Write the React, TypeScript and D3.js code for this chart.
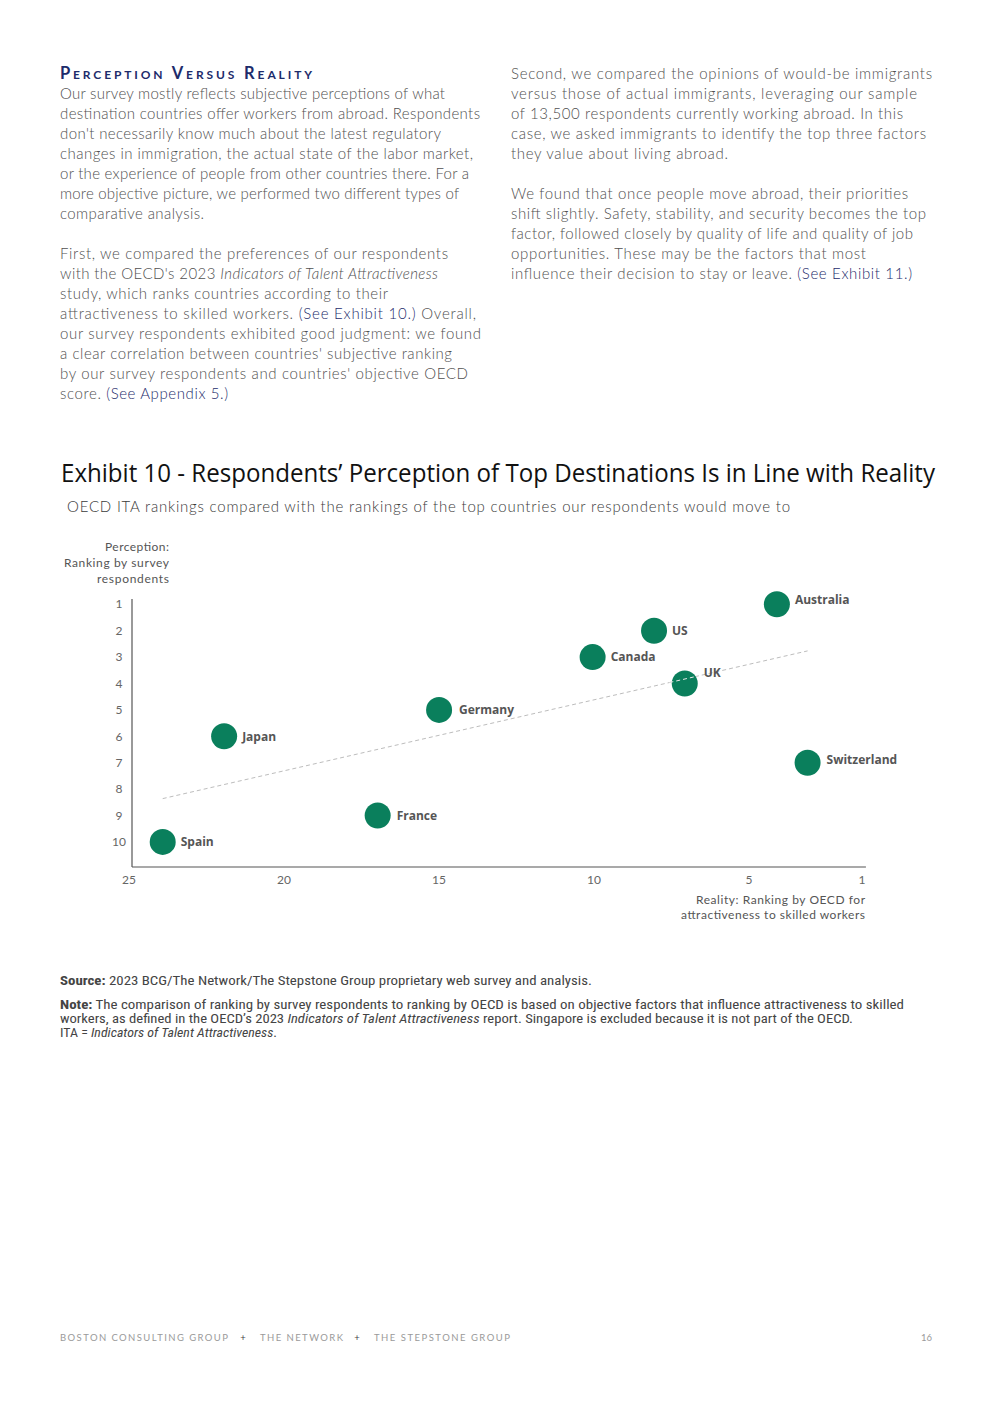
import React from 'react';
import * as d3 from 'd3';

// chart data
const countries = ['Australia', 'US', 'Canada', 'UK', 'Germany', 'Japan', 'Switzerland', 'France', 'Spain'];
const oecdRank = [4, 8, 10, 7, 15, 22, 3, 17, 24];
const surveyRank = [1, 2, 3, 4, 5, 6, 7, 9, 10];
const xTickValues = [25, 20, 15, 10, 5, 1];
const yTickValues = [1, 2, 3, 4, 5, 6, 7, 8, 9, 10];

const GREEN = '#0a7f5c';
const NAVY = '#1d2c6b';
const BODY = '#505050';
const BODY_FONT = 'Lato, "Open Sans", sans-serif';

// label placement tweaks (UK sits above the trend line)
const labelNudge: Record<string, [number, number]> = { UK: [1, -11], Australia: [0, -4], Switzerland: [1, -3], Germany: [2, 0], France: [1, 0] };

type Seg = { t: string; link?: boolean; it?: boolean };
type Line = { segs: Seg[]; end?: number };
const leftLines: Line[] = [
  { segs: [{ t: 'Our survey mostly reflects subjective perceptions of what' }], end: 445 },
  { segs: [{ t: 'destination countries offer workers from abroad. Respondents' }], end: 480 },
  { segs: [{ t: "don't necessarily know much about the latest regulatory" }], end: 441 },
  { segs: [{ t: 'changes in immigration, the actual state of the labor market,' }], end: 473 },
  { segs: [{ t: 'or the experience of people from other countries there. For a' }], end: 469 },
  { segs: [{ t: 'more objective picture, we performed two different types of' }], end: 459 },
  { segs: [{ t: 'comparative analysis.' }], end: 204 },
  { segs: [] },
  { segs: [{ t: 'First, we compared the preferences of our respondents' }], end: 448 },
  { segs: [{ t: "with the OECD's 2023 " }, { t: 'Indicators of Talent Attractiveness', it: true }], end: 438 },
  { segs: [{ t: 'study, which ranks countries according to their' }], end: 388 },
  { segs: [{ t: 'attractiveness to skilled workers. ' }, { t: '(See Exhibit 10.)', link: true }, { t: ' Overall,' }], end: 476 },
  { segs: [{ t: 'our survey respondents exhibited good judgment: we found' }], end: 481 },
  { segs: [{ t: "a clear correlation between countries' subjective ranking" }], end: 452 },
  { segs: [{ t: "by our survey respondents and countries' objective OECD" }], end: 468 },
  { segs: [{ t: 'score. ' }, { t: '(See Appendix 5.)', link: true }], end: 228 },
];
const rightLines: Line[] = [
  { segs: [{ t: 'Second, we compared the opinions of would-be immigrants' }], end: 932 },
  { segs: [{ t: 'versus those of actual immigrants, leveraging our sample' }], end: 917 },
  { segs: [{ t: 'of 13,500 respondents currently working abroad. In this' }], end: 903 },
  { segs: [{ t: 'case, we asked immigrants to identify the top three factors' }], end: 926 },
  { segs: [{ t: 'they value about living abroad.' }], end: 728 },
  { segs: [] },
  { segs: [{ t: 'We found that once people move abroad, their priorities' }], end: 908 },
  { segs: [{ t: 'shift slightly. Safety, stability, and security becomes the top' }], end: 926 },
  { segs: [{ t: 'factor, followed closely by quality of life and quality of job' }], end: 913 },
  { segs: [{ t: 'opportunities. These may be the factors that most' }], end: 866 },
  { segs: [{ t: 'influence their decision to stay or leave. ' }, { t: '(See Exhibit 11.)', link: true }], end: 912 },
];

function Para({ lines, x, y0 }: { lines: Line[]; x: number; y0: number }) {
  return (
    <g fontFamily={BODY_FONT} fontWeight={300} fontSize={15} fill={BODY}>
      {lines.map((ln, i) => ln.segs.length ? (
        <text key={i} x={x} y={y0 + i * 20} textLength={ln.end ? ln.end - x : undefined} lengthAdjust="spacing">
          {ln.segs.map((s, j) => (
            <tspan key={j} fill={s.link ? NAVY : undefined} fontStyle={s.it ? 'italic' : undefined}>{s.t}</tspan>
          ))}
        </text>
      ) : null)}
    </g>
  );
}

export default function App() {
  const x = d3.scaleLinear().domain([25, 1]).range([132, 869]);
  // the exhibit's tick labels are spread a touch wider than the plotted points
  const xLabel = d3.scaleLinear().domain([25, 1]).range([129, 873]);
  const y = d3.scaleLinear().domain([0.8, 10.95]).range([599, 867]);
  const [x0] = x.range();
  const xEnd = x(1.1);
  const [yTop, yBot] = y.range();

  // least-squares trend line of survey rank on OECD rank
  const mx = d3.mean(oecdRank)!;
  const my = d3.mean(surveyRank)!;
  const sxy = d3.sum(oecdRank, (v, i) => (v - mx) * (surveyRank[i] - my));
  const sxx = d3.sum(oecdRank, v => (v - mx) ** 2);
  const slope = sxy / sxx;
  const icpt = my - slope * mx;
  const [xMin, xMax] = d3.extent(oecdRank) as [number, number];
  const trendLine = d3.line<number>().x(v => x(v)).y(v => y(icpt + slope * v));

  const pts = countries.map((c, i) => ({ c, ox: oecdRank[i], sy: surveyRank[i] }));

  return (
    <svg width={992} height={1403} style={{ position: 'absolute', left: 0, top: 0, background: '#fff' }}>
      {/* heading */}
      <text x={60} y={79} fontFamily={BODY_FONT} fontWeight={700} fontSize={16.5} fill={NAVY}
        style={{ fontVariant: 'small-caps' }} textLength={252} lengthAdjust="spacing">Perception Versus Reality</text>
      <Para lines={leftLines} x={60} y0={99} />
      <Para lines={rightLines} x={511} y0={79} />

      {/* exhibit title */}
      <text x={61} y={482} fontFamily='"Open Sans", Roboto, sans-serif' fontSize={25} fill="#111" textLength={874} lengthAdjust="spacingAndGlyphs">
        Exhibit 10 - Respondents’ Perception of Top Destinations Is in Line with Reality
      </text>
      <text x={67} y={512} fontFamily={BODY_FONT} fontWeight={300} fontSize={15} fill="#3a3a3a" textLength={723} lengthAdjust="spacing">
        OECD ITA rankings compared with the rankings of the top countries our respondents would move to
      </text>

      {/* axis titles */}
      <g fontFamily={BODY_FONT} fontSize={12} fill="#555" textAnchor="end">
        <text x={169} y={551} textLength={64} lengthAdjust="spacing">Perception:</text>
        <text x={169} y={567} textLength={105} lengthAdjust="spacing">Ranking by survey</text>
        <text x={169} y={583} textLength={72} lengthAdjust="spacing">respondents</text>
        <text x={865} y={904} textLength={169} lengthAdjust="spacing">Reality: Ranking by OECD for</text>
        <text x={865} y={919} textLength={184} lengthAdjust="spacing">attractiveness to skilled workers</text>
      </g>

      {/* axes */}
      <line x1={x0} x2={x0} y1={yTop} y2={yBot} stroke="#555" strokeWidth={1.2} />
      <line x1={x0} x2={xEnd} y1={yBot} y2={yBot} stroke="#555" strokeWidth={1.2} />
      <g fontFamily={BODY_FONT} fontSize={12} fill="#666">
        {yTickValues.map(v => (
          <text key={v} x={119} y={y(v)} dy="0.35em" textAnchor="middle">{v}</text>
        ))}
        {xTickValues.map(v => (
          <text key={v} x={Math.min(xLabel(v), xEnd - 4)} y={884} textAnchor="middle">{v}</text>
        ))}
      </g>

      {/* trend line */}
      <path d={trendLine([xMax, xMin]) || ''} fill="none" stroke="#bdbdbd" strokeWidth={1} strokeDasharray="4,3" />

      {/* points */}
      {pts.map(p => (
        <circle key={p.c} cx={x(p.ox)} cy={y(p.sy)} r={13} fill={GREEN} />
      ))}
      <path d={trendLine([7.5, 6.6]) || ''} stroke="#e8e8e8" strokeWidth={1} strokeDasharray="4,3" fill="none" />
      <g fontFamily='"Open Sans", sans-serif' fontWeight={700} fontSize={12} fill="#555">
        {pts.map(p => {
          const [dx, dy] = labelNudge[p.c] || [0, 0];
          return (
            <text key={p.c} x={x(p.ox) + 18 + dx} y={y(p.sy) + dy} dy="0.35em">{p.c}</text>
          );
        })}
      </g>

      {/* source and note */}
      <g fontFamily='"Liberation Sans Narrow", "Roboto Condensed", Roboto, sans-serif' fontSize={12} fill="#444">
        <text x={60} y={985} textLength={532} lengthAdjust="spacingAndGlyphs">
          <tspan fontWeight={700}>Source:</tspan> 2023 BCG/The Network/The Stepstone Group proprietary web survey and analysis.
        </text>
        <text x={60} y={1009} textLength={844} lengthAdjust="spacingAndGlyphs">
          <tspan fontWeight={700}>Note:</tspan> The comparison of ranking by survey respondents to ranking by OECD is based on objective factors that influence attractiveness to skilled
        </text>
        <text x={60} y={1023} textLength={793} lengthAdjust="spacingAndGlyphs">
          workers, as defined in the OECD’s 2023 <tspan fontStyle="italic">Indicators of Talent Attractiveness</tspan> report. Singapore is excluded because it is not part of the OECD.
        </text>
        <text x={60} y={1037} textLength={217} lengthAdjust="spacingAndGlyphs">
          ITA = <tspan fontStyle="italic">Indicators of Talent Attractiveness</tspan>.
        </text>
      </g>

      {/* footer */}
      <g fontFamily={BODY_FONT} fontSize={9.5} fill="#9a9a9a">
        <text x={60} y={1341} textLength={168} lengthAdjust="spacing">BOSTON CONSULTING GROUP</text>
        <text x={243} y={1341} fill="#444" textAnchor="middle">+</text>
        <text x={260} y={1341} textLength={83} lengthAdjust="spacing">THE NETWORK</text>
        <text x={357} y={1341} fill="#444" textAnchor="middle">+</text>
        <text x={374} y={1341} textLength={136} lengthAdjust="spacing">THE STEPSTONE GROUP</text>
        <text x={932} y={1341} textAnchor="end">16</text>
      </g>
    </svg>
  );
}
